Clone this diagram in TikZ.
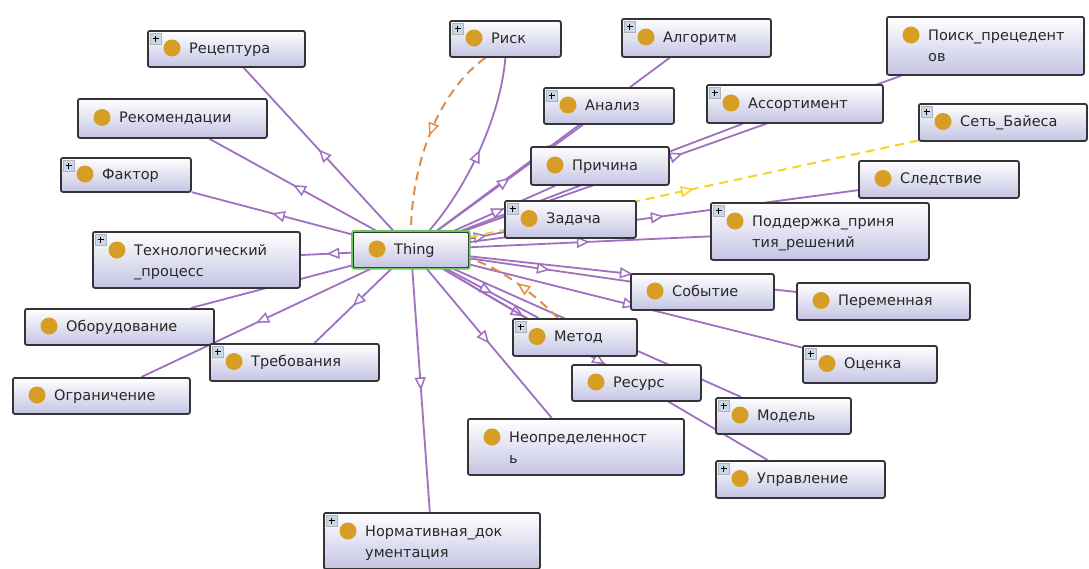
\documentclass[tikz,border=0pt]{standalone}
\usepackage{fontspec}
\setmainfont{DejaVu Sans}
\usetikzlibrary{arrows.meta,decorations.markings,calc}
\definecolor{edgec}{RGB}{160,112,192}
\definecolor{orangec}{RGB}{226,142,72}
\definecolor{yellowc}{RGB}{245,210,40}
\definecolor{boxline}{RGB}{52,52,56}
\definecolor{boxbot}{RGB}{196,196,228}
\definecolor{thingc}{RGB}{104,200,96}
\definecolor{dotc}{RGB}{214,158,36}
\definecolor{iconc}{RGB}{200,216,232}
\definecolor{txtc}{RGB}{40,40,40}
\pgfdeclarelayer{bg}
\pgfdeclarelayer{paper}
\pgfsetlayers{paper,bg,main}
\tikzset{
  box/.style={rectangle, rounded corners=2pt, draw=boxline, line width=1.8pt,
    top color=white, bottom color=boxbot, inner sep=0pt},
  lbl/.style={inner sep=0pt, text=txtc, font=\fontsize{14.5}{16}\selectfont},
  midarrow/.style={postaction={decorate}, decoration={markings,
    mark=at position 0.5 with {\arrow[#1,line width=1.5pt]{Triangle[length=13pt,width=11pt,fill=white]}}}},
  isa/.style={draw=edgec, line width=1.8pt, midarrow=edgec},
  orng/.style={draw=orangec, line width=2pt, dash pattern=on 9pt off 6pt, midarrow=orangec},
  yell/.style={draw=yellowc, line width=2pt, dash pattern=on 9pt off 6pt, midarrow=yellowc},
}
\newcommand\plusicon[2]{%
  \draw[fill=iconc, draw=gray!60, line width=0.6pt] (#1+3,#2+3) rectangle ++(11,11);
  \draw[line width=1.2pt, black] (#1+5.5,#2+8.5) -- ++(6,0) (#1+8.5,#2+5.5) -- ++(0,6);}
\newcommand\cls[8]{%
  \node[box, minimum width={#4-#2}, minimum height={#5-#3}, anchor=north west] (#1) at (#2,#3) {};
  \if\relax\detokenize{#8}\relax
    \pgfmathsetmacro\yA{(#3+#5)/2}%
  \else
    \pgfmathsetmacro\yA{#3+19}%
    \pgfmathsetmacro\yB{#3+40}%
    \node[lbl, anchor=base west] (#1-l2) at (#2+42,\yB+5) {#8};
  \fi
  \fill[dotc] (#2+25,\yA) circle[radius=8.5pt];
  \node[lbl, anchor=base west] (#1-l1) at (#2+42,\yA+5) {#7};
  \ifnum#6=1 \plusicon{#2}{#3}\fi
}
\begin{document}
\begin{tikzpicture}[x=1pt,y=-1pt]
\useasboundingbox (0,0) rectangle (1089,568);
\begin{pgfonlayer}{paper}
\fill[white] (0,0) rectangle (1089,568);
\end{pgfonlayer}
\cls{rec}{147}{30}{304}{66}{1}{Рецептура}{}
\cls{reko}{77}{98}{266}{137}{0}{Рекомендации}{}
\cls{fak}{60}{157}{190}{191}{1}{Фактор}{}
\cls{tech}{92}{231}{299}{287}{1}{Технологический}{\_процесс}
\cls{obo}{24}{308}{213}{344}{0}{Оборудование}{}
\cls{ogr}{12}{377}{189}{413}{0}{Ограничение}{}
\cls{treb}{209}{343}{378}{380}{1}{Требования}{}
\cls{thing}{352}{231}{468}{267}{0}{Thing}{}
\draw[thingc, line width=1.8pt, rounded corners=2pt] (thing.north west) rectangle (thing.south east);
\cls{risk}{449}{20}{560}{56}{1}{Риск}{}
\cls{alg}{621}{18}{770}{56}{1}{Алгоритм}{}
\cls{poisk}{886}{16}{1083}{74}{0}{Поиск\_прецедент}{ов}
\cls{anal}{543}{87}{673}{123}{1}{Анализ}{}
\cls{assort}{706}{84}{882}{122}{1}{Ассортимент}{}
\cls{bayes}{918}{103}{1086}{140}{1}{Сеть\_Байеса}{}
\cls{prich}{530}{146}{668}{184}{0}{Причина}{}
\cls{sled}{858}{160}{1018}{197}{0}{Следствие}{}
\cls{zad}{504}{200}{635}{237}{1}{Задача}{}
\cls{podd}{710}{202}{928}{259}{1}{Поддержка\_приня}{тия\_решений}
\cls{sob}{630}{273}{773}{309}{0}{Событие}{}
\cls{per}{796}{282}{969}{319}{0}{Переменная}{}
\cls{metod}{512}{318}{636}{355}{1}{Метод}{}
\cls{res}{571}{364}{700}{400}{0}{Ресурс}{}
\cls{ocen}{802}{345}{936}{382}{1}{Оценка}{}
\cls{model}{715}{397}{850}{433}{1}{Модель}{}
\cls{neop}{467}{418}{683}{474}{0}{Неопределенност}{ь}
\cls{upr}{715}{460}{884}{497}{1}{Управление}{}
\cls{norm}{323}{512}{539}{568}{1}{Нормативная\_док}{ументация}
\begin{pgfonlayer}{bg}
\foreach \t in {rec,reko,fak,tech,obo,ogr,treb,alg,poisk,anal,assort,prich,sled,zad,podd,sob,per,metod,res,ocen,model,neop,upr,norm}
  \draw[isa] (thing) -- (\t);
\draw[isa] ($(thing.north)+(18,0)$) .. controls (465,190) and (500,120) .. (risk.south);
\draw[orng] ($(risk.south)+(-20,0)$) .. controls (440,90) and (412,160) .. (thing.north);
\draw[orng] ($(metod.north)+(-17,0)$) .. controls (530,290) and (495,265) .. ($(thing.east)+(0,9)$);
\draw[yell] (thing) -- (bayes);
\end{pgfonlayer}
\end{tikzpicture}
\end{document}
